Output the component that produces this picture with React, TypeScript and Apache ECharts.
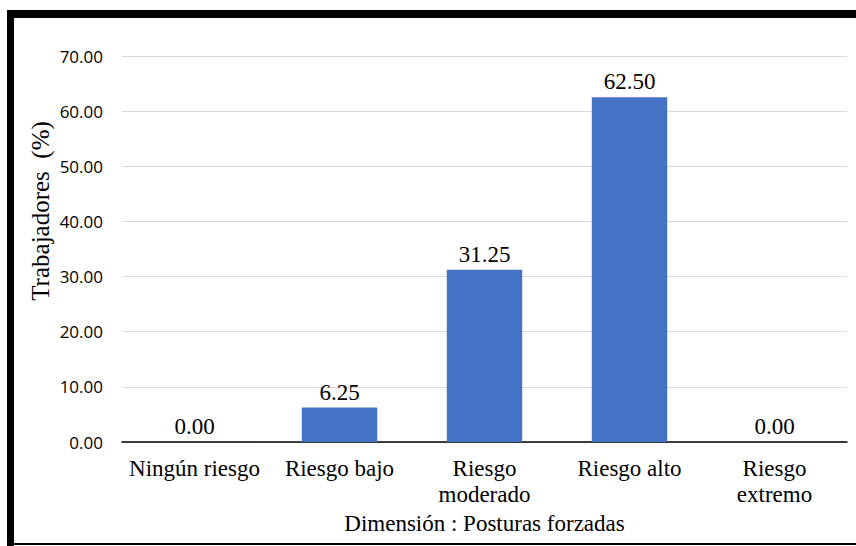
import React, { useEffect, useRef } from "react";
import * as echarts from "echarts";

const categories = ["Ningún riesgo", "Riesgo bajo", "Riesgo\nmoderado", "Riesgo alto", "Riesgo\nextremo"];
const values = [0.0, 6.25, 31.25, 62.5, 0.0];
const yTicks = { min: 0, max: 70, interval: 10 };
const yTitle = "Trabajadores  (%)";
const xTitle = "Dimensión : Posturas forzadas";

const serif = "Times New Roman, Liberation Serif, DejaVu Serif, serif";
const sans = "Open Sans, sans-serif";

export default function App() {
  const ref = useRef<HTMLDivElement>(null);

  useEffect(() => {
    document.body.style.margin = "0";
    const chart = echarts.init(ref.current!, null, { renderer: "svg" });
    chart.setOption({
      animation: false,
      backgroundColor: "#ffffff",
      textStyle: { fontFamily: serif },
      grid: { left: 122, right: 9, top: 56, bottom: 104, containLabel: false },
      xAxis: {
        type: "category",
        data: categories,
        name: xTitle,
        nameLocation: "middle",
        nameGap: 68,
        nameTextStyle: { fontFamily: serif, fontSize: 23, color: "#000" },
        axisLine: { lineStyle: { color: "#000", width: 1.5 } },
        axisTick: { show: false },
        axisLabel: {
          fontFamily: serif,
          fontSize: 23,
          color: "#000",
          margin: 13,
          lineHeight: 26,
          interval: 0,
        },
      },
      yAxis: {
        type: "value",
        min: yTicks.min,
        max: yTicks.max,
        interval: yTicks.interval,
        axisLine: { show: false },
        axisTick: { show: false },
        splitLine: { lineStyle: { color: "#d9d9d9", width: 1 } },
        axisLabel: {
          fontFamily: sans,
          fontSize: 17,
          color: "#000",
          margin: 19,
          formatter: (v: number) => v.toFixed(2),
        },
      },
      series: [
        {
          type: "bar",
          data: values,
          barWidth: "52%",
          itemStyle: { color: "#4472c4" },
          label: {
            show: true,
            position: "top",
            distance: 4,
            fontFamily: serif,
            fontSize: 23,
            color: "#000",
            formatter: (p: any) => Number(p.value).toFixed(2),
          },
        },
      ],
      graphic: [
        {
          type: "text",
          x: 40,
          y: 211,
          rotation: Math.PI / 2,
          silent: true,
          style: {
            text: yTitle,
            fontFamily: serif,
            fontSize: 25,
            fill: "#000",
            align: "center",
            verticalAlign: "middle",
          },
        },
        { type: "rect", shape: { x: 7, y: 10, width: 860, height: 8 }, style: { fill: "#000" }, silent: true },
        { type: "rect", shape: { x: 7, y: 10, width: 7, height: 540 }, style: { fill: "#000" }, silent: true },
        { type: "rect", shape: { x: 7, y: 543, width: 860, height: 2 }, style: { fill: "#000" }, silent: true },
      ],
    });
    return () => chart.dispose();
  }, []);

  return <div ref={ref} style={{ width: 856, height: 546 }} />;
}
